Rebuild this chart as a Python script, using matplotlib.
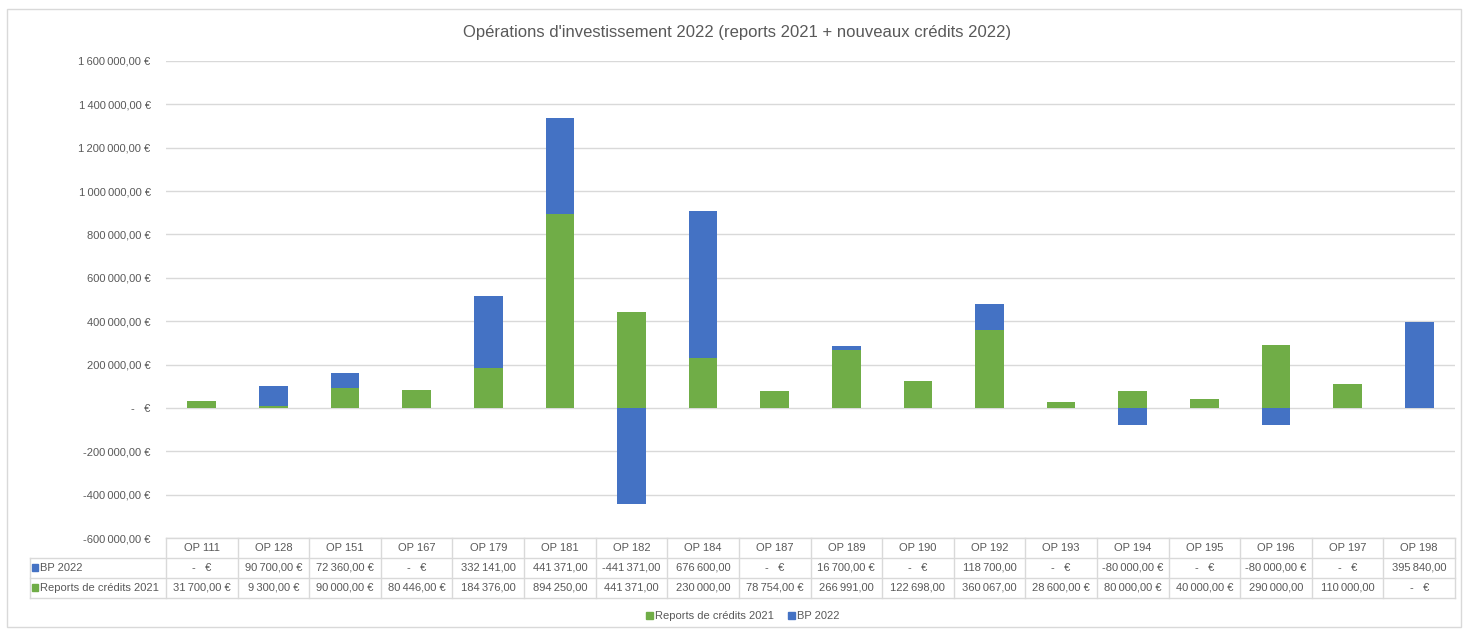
import numpy as np
import matplotlib
matplotlib.use("Agg")
import matplotlib.pyplot as plt
from matplotlib.patches import Rectangle

categories = ["OP 111", "OP 128", "OP 151", "OP 167", "OP 179", "OP 181", "OP 182", "OP 184", "OP 187",
              "OP 189", "OP 190", "OP 192", "OP 193", "OP 194", "OP 195", "OP 196", "OP 197", "OP 198"]
bp_2022 = [0, 90700, 72360, 0, 332141, 441371, -441371, 676600, 0,
           16700, 0, 118700, 0, -80000, 0, -80000, 0, 395840]
reports_2021 = [31700, 9300, 90000, 80446, 184376, 894250, 441371, 230000, 78754,
                266991, 122698, 360067, 28600, 80000, 40000, 290000, 110000, 0]
yticks = np.arange(-600000, 1600001, 200000)

GREEN = "#70AD47"
BLUE = "#4472C4"
GRID = "#D9D9D9"
TXT = "#595959"
plt.rcParams["font.family"] = ["Liberation Sans", "DejaVu Sans"]

W, H = 1463, 629


def fr(v, euro=True):
    if v == 0:
        return "-   \u20ac"
    s = f"{abs(v):,.2f}".replace(",", "\u2009").replace(".", ",")
    if v < 0:
        s = "-" + s
    if euro:
        s += " \u20ac"
    return s


def cell(v):
    # Excel drops the currency sign when the number gets too wide for the cell
    return fr(v, euro=abs(v) < 100000)


fig = plt.figure(figsize=(W / 100, H / 100), dpi=100)
ax = fig.add_axes([166 / W, 1 - 538 / H, (1455 - 166) / W, (538 - 61) / H])

x = np.arange(len(categories))
rep = np.array(reports_2021)
bp = np.array(bp_2022)
bw = 0.40
ax.bar(x, rep, width=bw, color=GREEN, zorder=3)
bottom = np.where(bp >= 0, np.maximum(rep, 0), 0)
ax.bar(x, bp, width=bw, bottom=bottom, color=BLUE, zorder=3)

ax.set_xlim(-0.5, len(categories) - 0.5)
ax.set_ylim(-600000, 1600000)
ax.set_yticks(yticks)
ax.set_yticklabels([fr(v) for v in yticks], fontsize=8, color=TXT)
ax.tick_params(axis="y", length=0, pad=11)
ax.set_xticks([])
ax.grid(axis="y", color=GRID, linewidth=1, zorder=0)
for s in ax.spines.values():
    s.set_visible(False)

# overlay in pixel coords for table, legend and frame
ov = fig.add_axes([0, 0, 1, 1], facecolor="none")
ov.set_xlim(0, W)
ov.set_ylim(H, 0)
ov.axis("off")

edges = [166 + (1455 - 166) * i / len(categories) for i in range(len(categories) + 1)]
rows = [538, 558, 578, 598]
lc = "#D9D9D9"
for xe in edges:
    ov.plot([xe, xe], [rows[0], rows[-1]], color=lc, lw=1)
ov.plot([30, 30], [rows[1], rows[-1]], color=lc, lw=1)
ov.plot([edges[0], edges[-1]], [rows[0], rows[0]], color=lc, lw=1)
for yr in rows[1:]:
    ov.plot([30, edges[-1]], [yr, yr], color=lc, lw=1)

fs = 8
for i, c in enumerate(categories):
    xc = (edges[i] + edges[i + 1]) / 2
    ov.text(xc, 548, c, ha="center", va="center", fontsize=fs, color=TXT)
    ov.text(xc, 568, cell(bp_2022[i]), ha="center", va="center", fontsize=fs, color=TXT)
    ov.text(xc, 588, cell(reports_2021[i]), ha="center", va="center", fontsize=fs, color=TXT)

ov.add_patch(Rectangle((32, 564), 6, 7, color=BLUE))
ov.text(40, 568, "BP 2022", ha="left", va="center", fontsize=fs, color=TXT)
ov.add_patch(Rectangle((32, 584), 6, 7, color=GREEN))
ov.text(40, 588, "Reports de cr\u00e9dits 2021", ha="left", va="center", fontsize=fs, color=TXT)

# legend
ov.add_patch(Rectangle((646, 612), 7, 7, color=GREEN))
ov.text(655, 616, "Reports de cr\u00e9dits 2021", ha="left", va="center", fontsize=fs, color=TXT)
ov.add_patch(Rectangle((788, 612), 7, 7, color=BLUE))
ov.text(797, 616, "BP 2022", ha="left", va="center", fontsize=fs, color=TXT)

# frame
ov.add_patch(Rectangle((7, 9), 1454, 618, fill=False, edgecolor="#D9D9D9", lw=1))

ov.text(737, 33, "Op\u00e9rations d'investissement 2022 (reports 2021 + nouveaux cr\u00e9dits 2022)",
        ha="center", va="center", fontsize=12, color=TXT)

fig.savefig("out.png", dpi=100, facecolor="white")
